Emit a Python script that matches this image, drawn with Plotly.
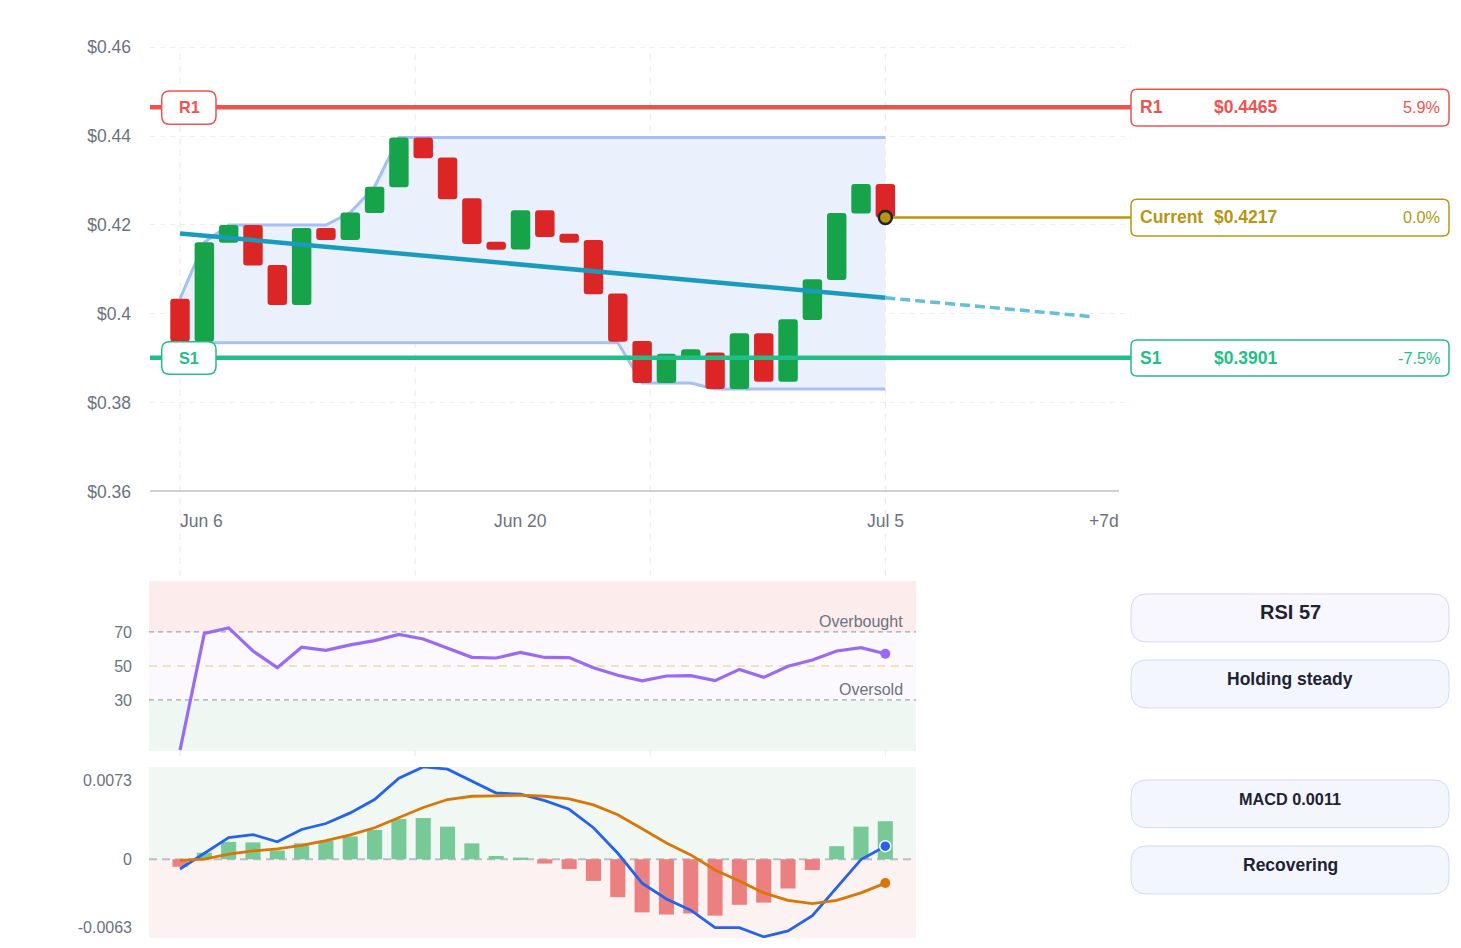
import plotly.graph_objects as go

# ---------------- data ----------------
dates = ["Jun 6", "Jun 7", "Jun 8", "Jun 9", "Jun 10", "Jun 11", "Jun 12", "Jun 13", "Jun 14", "Jun 15",
         "Jun 16", "Jun 17", "Jun 18", "Jun 19", "Jun 20", "Jun 21", "Jun 22", "Jun 23", "Jun 24", "Jun 25",
         "Jun 26", "Jun 27", "Jun 28", "Jun 29", "Jun 30", "Jul 1", "Jul 2", "Jul 3", "Jul 4", "Jul 5"]
day = list(range(len(dates)))

opens = [0.4034, 0.3937, 0.4160, 0.4200, 0.4110, 0.4020, 0.4193, 0.4166, 0.4227, 0.4285,
         0.4397, 0.4352, 0.4260, 0.4162, 0.4145, 0.4233, 0.4180, 0.4166, 0.4046, 0.3939,
         0.3844, 0.3900, 0.3913, 0.3831, 0.3956, 0.3847, 0.3986, 0.4076, 0.4226, 0.4292]
closes = [0.3937, 0.4161, 0.4200, 0.4109, 0.4020, 0.4193, 0.4166, 0.4228, 0.4286, 0.4397,
          0.4350, 0.4258, 0.4157, 0.4144, 0.4233, 0.4173, 0.4160, 0.4044, 0.3937, 0.3844,
          0.3910, 0.3920, 0.3831, 0.3956, 0.3847, 0.3988, 0.4078, 0.4227, 0.4292, 0.4217]

channel_upper = [0.4034, 0.4161, 0.4200, 0.4200, 0.4200, 0.4200, 0.4200, 0.4228, 0.4286, 0.4397,
                 0.4397, 0.4397, 0.4397, 0.4397, 0.4397, 0.4397, 0.4397, 0.4397, 0.4397, 0.4397,
                 0.4397, 0.4397, 0.4397, 0.4397, 0.4397, 0.4397, 0.4397, 0.4397, 0.4397, 0.4397]
channel_lower = [0.3935, 0.3935, 0.3935, 0.3935, 0.3935, 0.3935, 0.3935, 0.3935, 0.3935, 0.3935,
                 0.3935, 0.3935, 0.3935, 0.3935, 0.3935, 0.3935, 0.3935, 0.3935, 0.3935, 0.3844,
                 0.3844, 0.3844, 0.3831, 0.3831, 0.3831, 0.3831, 0.3831, 0.3831, 0.3831, 0.3831]

trend_x = [0, 29]
trend_y = [0.4181, 0.4036]
proj_x = [29, 37.4]
proj_y = [0.4036, 0.3994]

level_names = ["R1", "Current", "S1"]
level_values = [0.4465, 0.4217, 0.3901]
level_pcts = ["5.9%", "0.0%", "-7.5%"]

rsi = [0.5, 69.2, 72.4, 58.8, 49.0, 61.0, 59.2, 62.4, 64.9, 68.6,
       65.9, 60.4, 55.1, 54.7, 58.0, 55.0, 54.9, 49.0, 44.5, 41.2,
       44.1, 44.3, 41.4, 48.0, 43.3, 49.8, 53.5, 58.8, 60.8, 57.2]

macd = [-0.0009, 0.00056, 0.0020, 0.00227, 0.0016, 0.00274, 0.00329, 0.00427, 0.0055, 0.00747,
        0.0085, 0.0083, 0.0072, 0.0061, 0.0060, 0.0054, 0.0046, 0.0029, 0.00055, -0.0022,
        -0.00366, -0.0047, -0.0063, -0.0063, -0.00715, -0.0066, -0.0052, -0.0026, -0.00003, 0.0012]
signal = [-0.0001, 0.0000, 0.00047, 0.00076, 0.00096, 0.00128, 0.00172, 0.00224, 0.0029, 0.0038,
          0.00477, 0.0055, 0.0058, 0.00584, 0.0059, 0.0058, 0.00555, 0.0050, 0.0041, 0.0028,
          0.0015, 0.0004, -0.0010, -0.0020, -0.0031, -0.0038, -0.0041, -0.0038, -0.0031, -0.0022]
hist = [-0.0007, 0.0006, 0.0016, 0.00155, 0.0008, 0.00146, 0.0017, 0.0021, 0.0027, 0.0037,
        0.0038, 0.0030, 0.00146, 0.0003, 0.00015, -0.0004, -0.0009, -0.0020, -0.0035, -0.0049,
        -0.0051, -0.0050, -0.0052, -0.0042, -0.0040, -0.0027, -0.0010, 0.0012, 0.0030, 0.0035]

price_ticks = [0.36, 0.38, 0.40, 0.42, 0.44, 0.46]
price_tick_text = ["$0.36", "$0.38", "$0.4", "$0.42", "$0.44", "$0.46"]
rsi_ticks = [30, 50, 70]
macd_ticks = [-0.0063, 0, 0.0073]
macd_tick_text = ["-0.0063", "0", "0.0073"]

rsi_label = "RSI 57"
rsi_state = "Holding steady"
macd_label = "MACD 0.0011"
macd_state = "Recovering"

# ---------------- styling / layout helpers ----------------
W, H = 1461, 948
VS = 0.9895          # vertical squeeze observed in the capture of the page
FONT = "Liberation Sans, Arial, sans-serif"
GRAY = "#6b7280"
RED = "#ef5350"
GREEN_LVL = "#1fbf87"
GOLD = "#b8960e"
C_UP = "#16a34a"
C_DN = "#dc2626"
CH_LINE = "#a6c0f6"
level_colors = [RED, GOLD, GREEN_LVL]


def PX(x):
    return x / W


def PY(y):
    return 1 - (y / VS) / H


def rounded(x0, y0, x1, y1, r):
    pts = [
        f"M {PX(x0 + r)},{PY(y0)}",
        f"L {PX(x1 - r)},{PY(y0)}",
        f"Q {PX(x1)},{PY(y0)} {PX(x1)},{PY(y0 + r)}",
        f"L {PX(x1)},{PY(y1 - r)}",
        f"Q {PX(x1)},{PY(y1)} {PX(x1 - r)},{PY(y1)}",
        f"L {PX(x0 + r)},{PY(y1)}",
        f"Q {PX(x0)},{PY(y1)} {PX(x0)},{PY(y1 - r)}",
        f"L {PX(x0)},{PY(y0 + r)}",
        f"Q {PX(x0)},{PY(y0)} {PX(x0 + r)},{PY(y0)}",
        "Z",
    ]
    return " ".join(pts)


def polyline(xs, ys):
    return "M " + " L ".join(f"{x},{y}" for x, y in zip(xs, ys))


main_xrange = [-1.234, 39.10]
sub_xrange = [-1.275, 30.262]
macd_range = [-0.00726, 0.0085]

fig = go.Figure()

# candle bodies
bases = [min(o, c) for o, c in zip(opens, closes)]
heights = [abs(c - o) for o, c in zip(opens, closes)]
colors = [C_UP if c >= o else C_DN for o, c in zip(opens, closes)]
fig.add_trace(go.Bar(x=day, y=heights, base=bases, width=0.8,
                     marker=dict(color=colors, line=dict(width=0), cornerradius=3),
                     xaxis="x", yaxis="y", hovertext=dates))

# trend line + projection
fig.add_trace(go.Scatter(x=trend_x, y=trend_y, mode="lines", line=dict(color="#199bbe", width=4.5),
                         xaxis="x", yaxis="y"))
fig.add_trace(go.Scatter(x=proj_x, y=proj_y, mode="lines", line=dict(color="#66bed9", width=3.5, dash="10px,5px"),
                         xaxis="x", yaxis="y"))

# level lines
fig.add_trace(go.Scatter(x=main_xrange, y=[level_values[0]] * 2, mode="lines", line=dict(color=RED, width=4.5),
                         xaxis="x", yaxis="y"))
fig.add_trace(go.Scatter(x=main_xrange, y=[level_values[2]] * 2, mode="lines", line=dict(color=GREEN_LVL, width=4.5),
                         xaxis="x", yaxis="y"))
fig.add_trace(go.Scatter(x=[day[-1], main_xrange[1]], y=[level_values[1]] * 2, mode="lines",
                         line=dict(color=GOLD, width=2.5), xaxis="x", yaxis="y"))
fig.add_trace(go.Scatter(x=[day[-1]], y=[closes[-1]], mode="markers",
                         marker=dict(size=13, color=GOLD, line=dict(color="#1f2430", width=2.5)),
                         xaxis="x", yaxis="y"))

# RSI
fig.add_trace(go.Scatter(x=day, y=rsi, mode="lines", line=dict(color="#9a6af5", width=3.2),
                         xaxis="x2", yaxis="y2"))
fig.add_trace(go.Scatter(x=[day[-1]], y=[rsi[-1]], mode="markers", marker=dict(size=10, color="#9a6af5"),
                         xaxis="x2", yaxis="y2"))

# MACD
hcol = ["#78c998" if v >= 0 else "#ec8080" for v in hist]
fig.add_trace(go.Bar(x=day, y=hist, width=0.62, marker=dict(color=hcol, line=dict(width=0)),
                     xaxis="x3", yaxis="y3"))
fig.add_trace(go.Scatter(x=day, y=macd, mode="lines", line=dict(color="#2563eb", width=2.8),
                         xaxis="x3", yaxis="y3"))
fig.add_trace(go.Scatter(x=day, y=signal, mode="lines", line=dict(color="#d97706", width=2.8),
                         xaxis="x3", yaxis="y3"))
fig.add_trace(go.Scatter(x=[day[-1]], y=[macd[-1]], mode="markers",
                         marker=dict(size=11, color="#2563eb", line=dict(color="white", width=1.5)),
                         xaxis="x3", yaxis="y3"))
fig.add_trace(go.Scatter(x=[day[-1]], y=[signal[-1]], mode="markers", marker=dict(size=10, color="#d97706"),
                         xaxis="x3", yaxis="y3"))

shapes = []
# vertical grid lines
n = day[-1]
for d in [0, n / 3, 2 * n / 3, n]:
    shapes.append(dict(type="line", xref="x", yref="paper", x0=d, x1=d, y0=PY(756), y1=PY(47),
                       line=dict(color="#e6e8ec", width=1, dash="6px,6px"), layer="below"))
# price channel (fill + edges) between grid and traces
ch_path = polyline(day + day[::-1], channel_upper + channel_lower[::-1]) + " Z"
shapes.append(dict(type="path", xref="x", yref="y", path=ch_path, fillcolor="#eaf1fd",
                   line=dict(width=0), layer="between"))
shapes.append(dict(type="path", xref="x", yref="y", path=polyline(day, channel_upper),
                   line=dict(color=CH_LINE, width=3), layer="between"))
shapes.append(dict(type="path", xref="x", yref="y", path=polyline(day, channel_lower),
                   line=dict(color=CH_LINE, width=3), layer="between"))
# bottom axis line of price chart
shapes.append(dict(type="line", xref="paper", yref="y", x0=PX(150), x1=PX(1119), y0=0.36, y1=0.36,
                   line=dict(color="#9ca3af", width=2), layer="above"))
# RSI bands
shapes.append(dict(type="rect", xref="x2 domain", yref="y2", x0=0, x1=1, y0=70, y1=100,
                   fillcolor="#fcecec", line=dict(width=0), layer="below"))
shapes.append(dict(type="rect", xref="x2 domain", yref="y2", x0=0, x1=1, y0=30, y1=70,
                   fillcolor="#fbf9fe", line=dict(width=0), layer="below"))
shapes.append(dict(type="rect", xref="x2 domain", yref="y2", x0=0, x1=1, y0=0, y1=30,
                   fillcolor="#eef7f2", line=dict(width=0), layer="below"))
shapes.append(dict(type="line", xref="x2 domain", yref="y2", x0=0, x1=1, y0=70, y1=70,
                   line=dict(color="#a2a5ae", width=1.2, dash="5px,4px"), layer="below"))
shapes.append(dict(type="line", xref="x2 domain", yref="y2", x0=0, x1=1, y0=30, y1=30,
                   line=dict(color="#a2a5ae", width=1.2, dash="5px,4px"), layer="below"))
shapes.append(dict(type="line", xref="x2 domain", yref="y2", x0=0, x1=1, y0=50, y1=50,
                   line=dict(color="#efe2c2", width=2, dash="8px,6px"), layer="below"))
# MACD bands
shapes.append(dict(type="rect", xref="x3 domain", yref="y3 domain", x0=0, x1=1, y0=0, y1=1,
                   fillcolor="#fcf2f2", line=dict(width=0), layer="below"))
shapes.append(dict(type="rect", xref="x3 domain", yref="y3", x0=0, x1=1, y0=0, y1=macd_range[1],
                   fillcolor="#f1f8f3", line=dict(width=0), layer="below"))
shapes.append(dict(type="line", xref="x3 domain", yref="y3", x0=0, x1=1, y0=0, y1=0,
                   line=dict(color="#b9bdc5", width=2, dash="8px,5px"), layer="below"))

# left level tags
shapes.append(dict(type="path", path=rounded(161.7, 91, 216, 124.3, 8), xref="paper", yref="paper",
                   fillcolor="white", line=dict(color=RED, width=1.5), layer="above"))
shapes.append(dict(type="path", path=rounded(161.7, 341.7, 216, 374.3, 8), xref="paper", yref="paper",
                   fillcolor="white", line=dict(color=GREEN_LVL, width=1.5), layer="above"))
# right level boxes
right_boxes = [(89.3, 126.0), (199.3, 236.0), (340.0, 376.0)]
for (t, b), col in zip(right_boxes, level_colors):
    shapes.append(dict(type="path", path=rounded(1131, t, 1449, b, 6), xref="paper", yref="paper",
                       fillcolor="white", line=dict(color=col, width=1.5), layer="above"))
# indicator boxes
ind_boxes = [((594, 642), "#f8f6fe", "#ddd3fa"), ((660, 708), "#f3f6fd", "#cfdcf6"),
             ((780, 827.7), "#f3f6fd", "#cfdcf6"), ((846, 894), "#f3f6fd", "#cfdcf6")]
for (t, b), fc, lc in ind_boxes:
    shapes.append(dict(type="path", path=rounded(1131, t, 1449, b, 16), xref="paper", yref="paper",
                       fillcolor=fc, line=dict(color=lc, width=1), layer="above"))

ann = []


def A(text, x, y, xref="paper", yref="paper", xanchor="center", yanchor="middle", size=16, color=GRAY, **kw):
    if xanchor == "left":
        kw.setdefault("xshift", -2)
    elif xanchor == "right":
        kw.setdefault("xshift", 2)
    ann.append(dict(text=text, x=x, y=y, xref=xref, yref=yref, xanchor=xanchor, yanchor=yanchor,
                    showarrow=False, font=dict(size=size, color=color), **kw))


# x tick labels
xt_y = PY(521)
A("Jun 6", day[0], xt_y, xref="x", xanchor="left", size=17.5)
A("Jun 20", dates.index("Jun 20"), xt_y, xref="x", size=17.5)
A("Jul 5", day[-1], xt_y, xref="x", size=17.5)
A("+7d", PX(1119), xt_y, xanchor="right", size=17.5)
# RSI zone labels
A("Overbought", PX(903), 70, yref="y2", xanchor="right", yanchor="bottom", size=16)
A("Oversold", PX(903), 30, yref="y2", xanchor="right", yanchor="bottom", size=16)
# left tags
A("<b>R1</b>", PX(189), level_values[0], yref="y", size=16.25, color=RED)
A("<b>S1</b>", PX(189), level_values[2], yref="y", size=16.25, color=GREEN_LVL)
# right level box texts
for name, val, pct, col in zip(level_names, level_values, level_pcts, level_colors):
    A(f"<b>{name}</b>", PX(1140), val, yref="y", xanchor="left", size=17.5, color=col)
    A(f"<b>${val:.4f}</b>", PX(1214), val, yref="y", xanchor="left", size=17.5, color=col)
    A(pct, PX(1440), val, yref="y", xanchor="right", size=16.25, color=col)
# indicator box texts
DARK = "#1f2233"
for txt, yy, fs in [(rsi_label, 612, 20), (rsi_state, 679, 17.5), (macd_label, 799, 16.25), (macd_state, 865, 17.5)]:
    A(f"<b>{txt}</b>", PX(1290), PY(yy), size=fs, color=DARK)

axis_common = dict(showgrid=False, zeroline=False, showline=False)
fig.update_layout(
    width=W, height=H, autosize=False,
    margin=dict(l=0, r=0, t=0, b=0),
    paper_bgcolor="white", plot_bgcolor="rgba(0,0,0,0)",
    showlegend=False, barmode="overlay",
    font=dict(family=FONT, color=GRAY),
    xaxis=dict(domain=[PX(150), PX(1131)], range=main_xrange, showticklabels=False, anchor="y", **axis_common),
    yaxis=dict(domain=[PY(491.5), PY(2.9)], range=[0.36, 0.47], anchor="x", tickvals=price_ticks,
               ticktext=price_tick_text, showgrid=True, gridcolor="#eceef2", griddash="5px,5px", gridwidth=1,
               zeroline=False, showline=False, ticks="", ticklabelstandoff=18,
               tickfont=dict(size=17.5, color=GRAY)),
    xaxis2=dict(domain=[PX(149), PX(916)], range=sub_xrange, showticklabels=False, anchor="y2", **axis_common),
    yaxis2=dict(domain=[PY(751), PY(581)], range=[0, 100], anchor="x2", tickvals=rsi_ticks, ticks="",
                ticklabelstandoff=16, tickfont=dict(size=16, color=GRAY), **axis_common),
    xaxis3=dict(domain=[PX(149), PX(916)], range=sub_xrange, showticklabels=False, anchor="y3", **axis_common),
    yaxis3=dict(domain=[0, PY(767)], range=macd_range, anchor="x3", tickvals=macd_ticks,
                ticktext=macd_tick_text, ticks="", ticklabelstandoff=16, tickfont=dict(size=16, color=GRAY),
                **axis_common),
    shapes=shapes,
    annotations=ann,
)

fig.write_html("out.html", config={"responsive": False})
